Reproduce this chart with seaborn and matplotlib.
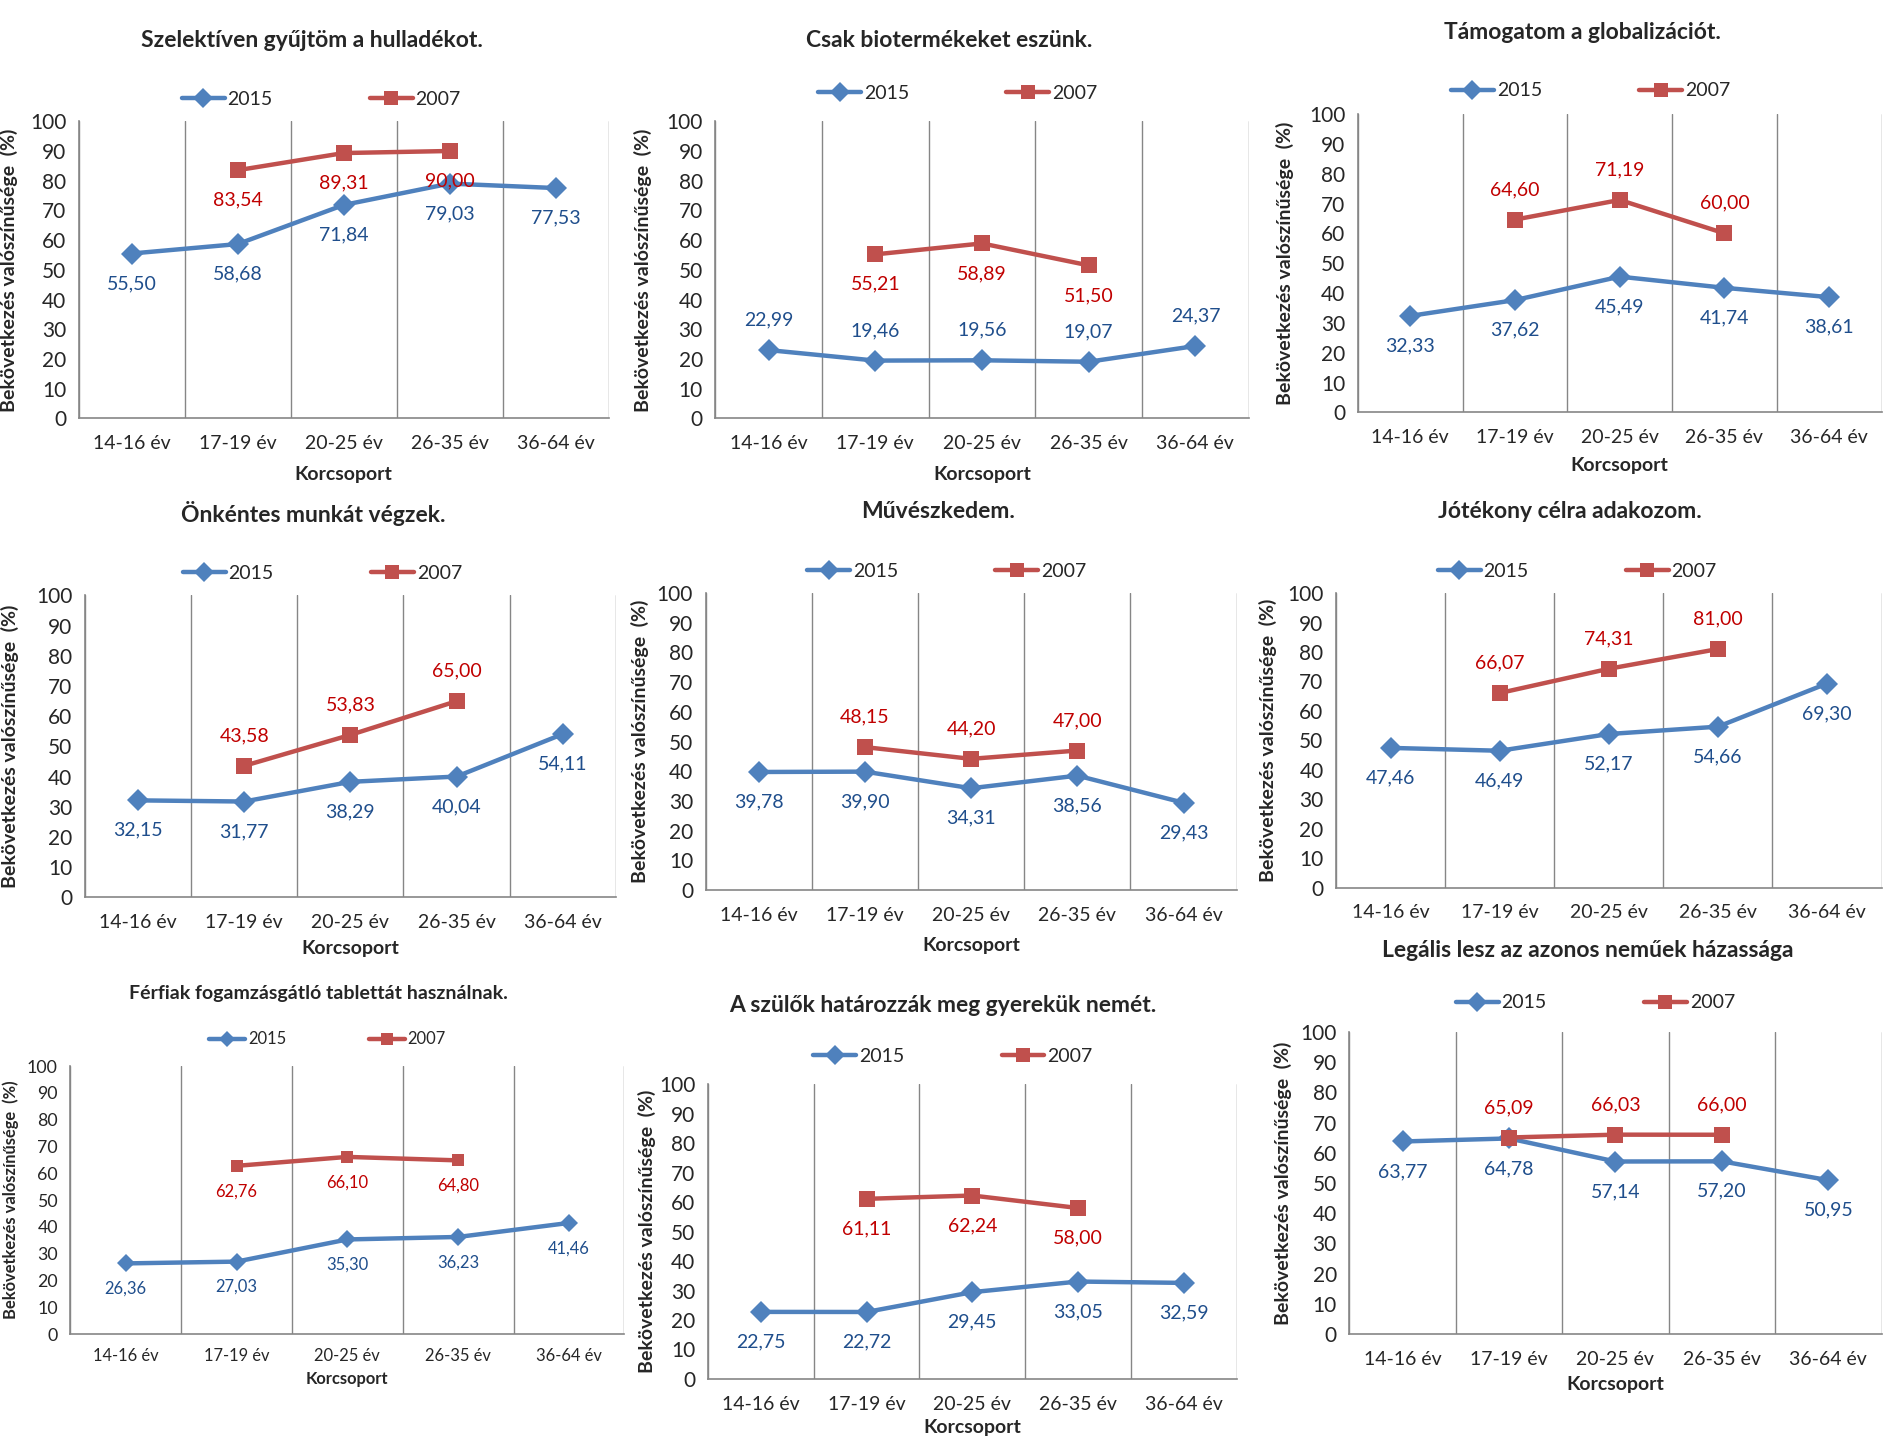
import matplotlib
matplotlib.use('Agg')
import matplotlib.pyplot as plt
import matplotlib.patches as mpatches
import numpy as np
import pandas as pd
import seaborn as sns

sns.set_style('white')
plt.rcParams['font.family'] = ['Lato', 'DejaVu Sans']

# --- adatok ---
age_groups = ['14-16 év', '17-19 év', '20-25 év', '26-35 év', '36-64 év']
years = ['2015', '2007']

titles = [
    'Szelektíven gyűjtöm a hulladékot.',
    'Csak biotermékeket eszünk.',
    'Támogatom a globalizációt.',
    'Önkéntes munkát végzek.',
    'Művészkedem.',
    'Jótékony célra adakozom.',
    'Férfiak fogamzásgátló tablettát használnak.',
    'A szülők határozzák meg gyerekük nemét.',
    'Legális lesz az azonos neműek házassága',
]

nan = np.nan
v2015 = [
    [55.50, 58.68, 71.84, 79.03, 77.53],
    [22.99, 19.46, 19.56, 19.07, 24.37],
    [32.33, 37.62, 45.49, 41.74, 38.61],
    [32.15, 31.77, 38.29, 40.04, 54.11],
    [39.78, 39.90, 34.31, 38.56, 29.43],
    [47.46, 46.49, 52.17, 54.66, 69.30],
    [26.36, 27.03, 35.30, 36.23, 41.46],
    [22.75, 22.72, 29.45, 33.05, 32.59],
    [63.77, 64.78, 57.14, 57.20, 50.95],
]
v2007 = [
    [nan, 83.54, 89.31, 90.00, nan],
    [nan, 55.21, 58.89, 51.50, nan],
    [nan, 64.60, 71.19, 60.00, nan],
    [nan, 43.58, 53.83, 65.00, nan],
    [nan, 48.15, 44.20, 47.00, nan],
    [nan, 66.07, 74.31, 81.00, nan],
    [nan, 62.76, 66.10, 64.80, nan],
    [nan, 61.11, 62.24, 58.00, nan],
    [nan, 65.09, 66.03, 66.00, nan],
]

# címke helye: -1 = pont alatt, +1 = pont felett (2015, 2007)
label_side = [(-1, -1), (1, -1), (-1, 1), (-1, 1), (-1, 1), (-1, 1), (-1, -1), (-1, -1), (-1, 1)]

# elrendezés (képpont a 1568x1189-es képen): bal, jobb, felső, alsó, cím x, cím y, legenda x, legenda y, ylabel x, xlabel y, méret
layout = [
    (65, 502, 100, 345, 257, 33, 265, 82, 15, 391, 1.0),
    (590, 1030, 100, 345, 783, 33, 790, 77, 538, 391, 1.0),
    (1120, 1552, 94, 340, 1305, 27, 1312, 75, 1067, 384, 1.0),
    (70, 508, 491, 740, 258, 423, 266, 473, 16, 782, 1.0),
    (582, 1020, 489, 734, 774, 422, 781, 471, 535, 780, 1.0),
    (1102, 1552, 489, 732, 1295, 422, 1301, 471, 1053, None, 1.0),
    (58, 515, 879, 1100, 263, 819, 270, 857, 16, 1137, 0.85),
    (584, 1020, 894, 1137, 778, 829, 786, 871, 541, 1177, 1.0),
    (1113, 1552, 851, 1100, 1310, 784, 1316, 827, 1066, 1142, 1.0),
]

W, H = 1568.0, 1189.0
blue, red = '#4F81BD', '#C0504D'
blue_txt, red_txt = '#1F4E8C', '#C00000'
grid_c = '#868686'

fig = plt.figure(figsize=(19.01, 14.42), dpi=100)
pos = np.arange(len(age_groups)) + 0.5

for i in range(9):
    l, r, t, b, tx, ty, lx, ly, ylx, xly, s = layout[i]
    ax = fig.add_axes([l / W, 1 - b / H, (r - l) / W, (b - t) / H])
    df = pd.DataFrame({
        'pos': np.concatenate([pos, pos]),
        'value': v2015[i] + v2007[i],
        'year': [years[0]] * 5 + [years[1]] * 5,
    }).dropna()
    sns.lineplot(data=df, x='pos', y='value', hue='year', style='year',
                 palette={'2015': blue, '2007': red},
                 markers={'2015': 'D', '2007': 's'}, dashes=False,
                 linewidth=3.2, markersize=11 * s, markeredgewidth=0,
                 ax=ax)

    ax.set_xlim(0, 5)
    ax.set_ylim(0, 100)
    ax.set_yticks(range(0, 101, 10))
    ax.set_xticks(range(6))
    ax.set_xticklabels([])
    ax.set_xticks(pos, minor=True)
    ax.set_xticklabels(age_groups, minor=True)
    ax.tick_params(axis='x', which='major', length=9, width=1, color=grid_c, direction='out')
    ax.tick_params(axis='x', which='minor', length=0, pad=12 * s, labelsize=14 * s)
    ax.tick_params(axis='y', length=6, width=1, color=grid_c, direction='out', labelsize=15 * s, pad=3)
    ax.xaxis.grid(True, which='major', color=grid_c, linewidth=1)
    ax.yaxis.grid(False)
    for sp in ['top', 'right']:
        ax.spines[sp].set_visible(False)
    for sp in ['left', 'bottom']:
        ax.spines[sp].set_color(grid_c)
        ax.spines[sp].set_linewidth(1.2)

    # adatcímkék
    for vals, side, col in ((v2015[i], label_side[i][0], blue_txt), (v2007[i], label_side[i][1], red_txt)):
        for x, v in zip(pos, vals):
            if np.isnan(v):
                continue
            ax.annotate(f'{v:.2f}'.replace('.', ','), (x, v), xytext=(0, 30 * side * s),
                        textcoords='offset pixels', ha='center', va='center',
                        color=col, fontsize=14 * s)

    h = b - t
    ax.set_title(titles[i], x=(tx - l) / (r - l), y=(b - ty) / h, va='center',
                 fontsize=16.5 * s, fontweight='bold', pad=0)
    ax.set_ylabel('Bekövetkezés valószínűsége  (%)', fontsize=14 * s, fontweight='bold')
    ax.yaxis.set_label_coords((ylx - l) / (r - l), 0.5)
    if xly is not None:
        ax.set_xlabel('Korcsoport', fontsize=14 * s, fontweight='bold')
        ax.xaxis.set_label_coords(0.5, (b - xly) / h)
        ax.xaxis.label.set_va('center')
    else:
        ax.set_xlabel('')

    leg = ax.legend(loc='center', bbox_to_anchor=((lx - l) / (r - l), (b - ly) / h),
                    ncol=2, frameon=False, fontsize=14 * s, handlelength=2.2,
                    handletextpad=0.15, columnspacing=5.0, borderaxespad=0)
    for lh in leg.legend_handles:
        lh.set_markersize(10 * s)

# a Jótékony-panel alsó szélének levágása
fig.add_artist(mpatches.Rectangle((1040 / W, 1 - 772 / H), 528 / W, 15 / H,
                                  transform=fig.transFigure, color='white', zorder=10))

fig.savefig('out.png', dpi=100)
